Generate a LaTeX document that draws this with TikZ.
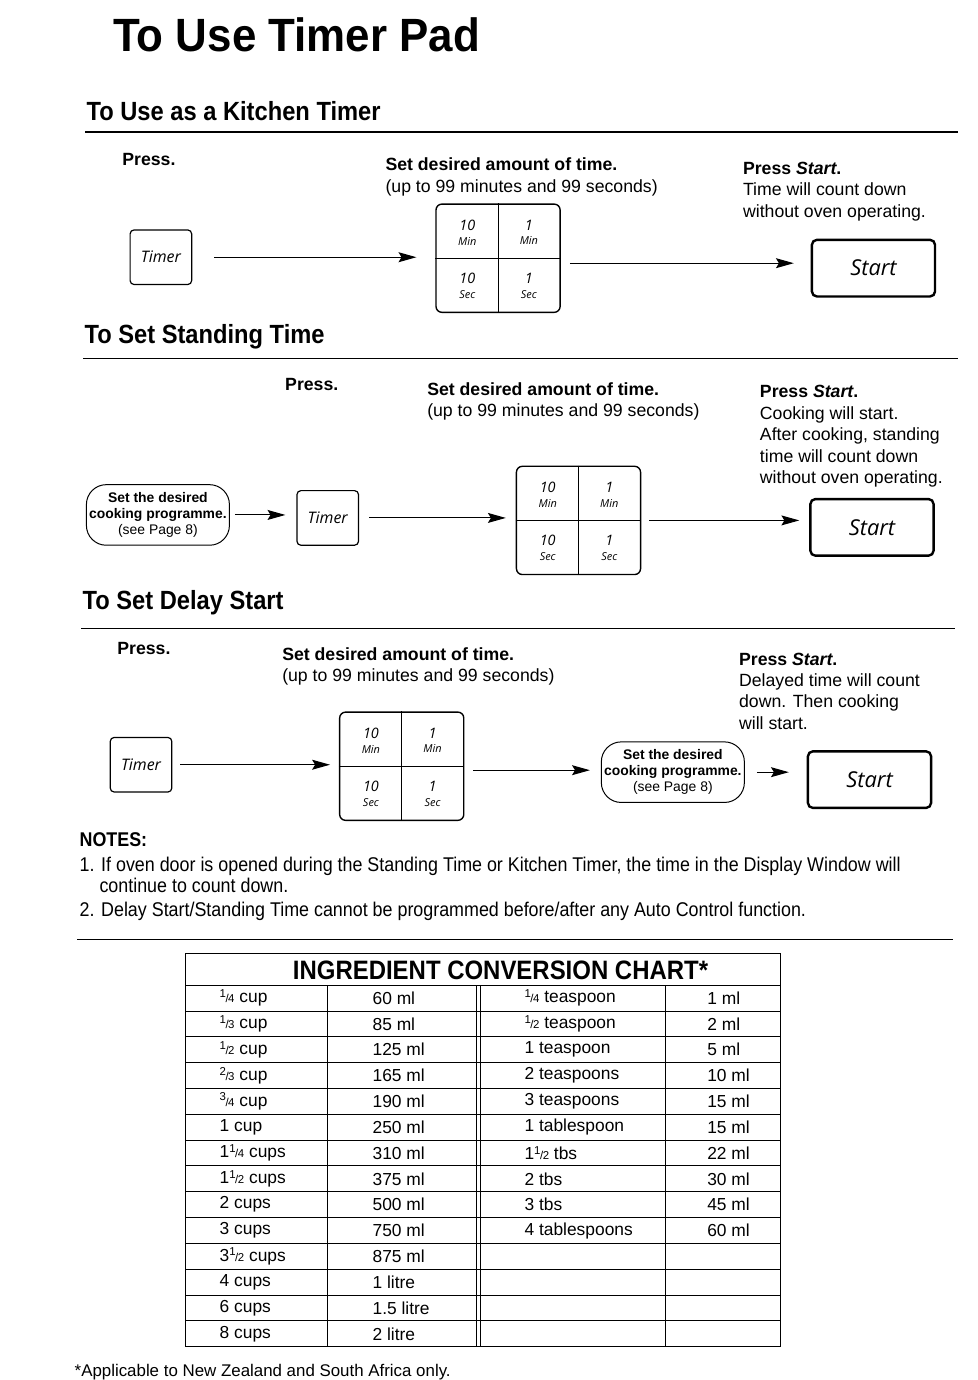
\documentclass[tikz,border=0pt]{standalone}
\usepackage{fontspec}
\setmainfont{Liberation Sans}
\newfontfamily\narrowfont{Liberation Sans}[FakeStretch=0.9]
\newfontfamily\titlefont{Liberation Sans}[FakeStretch=0.94]
\newfontfamily\keyfont{Open Sans}
\usetikzlibrary{arrows.meta, positioning, calc}

% small fractions for the chart
\newcommand{\vf}[2]{{\fontsize{11.5}{11}\selectfont\raisebox{5.5pt}{#1}\kern-0.5pt/\kern-0.5pt#2}}
% one key of the time pad
\newcommand{\padcell}[2]{{\fontsize{14.5}{14}\selectfont #1}\\{\fontsize{11}{11}\selectfont #2}}
% time pad: name, position
\newcommand{\timepad}[2]{%
  \node[padbox] (#1) at (#2) {};
  \draw[line width=1pt] (#1.north) -- (#1.south) (#1.west) -- (#1.east);
  \node[padkey] (#1-tl) at ($(#1.center)+(-31,-26)$) {\padcell{10}{Min}};
  \node[padkey] (#1-tr) at ($(#1.center)+(31,-26)$) {\padcell{1}{Min}};
  \node[padkey] (#1-bl) at ($(#1.center)+(-31,28)$) {\padcell{10}{Sec}};
  \node[padkey] (#1-br) at ($(#1.center)+(31,28)$) {\padcell{1}{Sec}};
}

\begin{document}
\begin{tikzpicture}[x=1pt, y=-1pt,
    keybox/.style={draw, rounded corners=4pt, line width=1.2pt, minimum width=62pt, minimum height=55pt,
                   font=\keyfont\itshape\fontsize{16}{18}\selectfont},
    startbox/.style={draw, rounded corners=5pt, line width=2.4pt, minimum width=124pt, minimum height=57pt,
                     font=\keyfont\itshape\fontsize{22}{24}\selectfont},
    padbox/.style={draw, rounded corners=6pt, line width=1.4pt, minimum width=125pt, minimum height=109pt},
    padkey/.style={align=center, inner sep=0pt, font=\keyfont\itshape\fontsize{12}{15}\selectfont},
    progbox/.style={draw, rounded corners=20pt, line width=1pt, minimum width=144pt, minimum height=61pt,
                    align=center, inner sep=1pt, font=\fontsize{14}{16}\selectfont},
    arrow/.style={-{Stealth[length=18pt, width=10pt, inset=3pt]}, line width=1.1pt},
    heading/.style={anchor=north west, inner sep=0pt, font=\narrowfont\bfseries\fontsize{26.5}{30}\selectfont},
    headrule/.style={line width=1.6pt},
    steptext/.style={anchor=north west, inner sep=0pt, align=left, font=\fontsize{17.8}{21.6}\selectfont},
    notetext/.style={anchor=north west, inner sep=0pt, font=\narrowfont\fontsize{20}{22}\selectfont},
    cell/.style={anchor=west, inner sep=0pt, font=\fontsize{17.5}{19}\selectfont}
  ]
    \path[fill=white] (0,0) rectangle (984,1380);

    % Title
    \node[anchor=north west, inner sep=0pt, font=\titlefont\bfseries\fontsize{47}{50}\selectfont] (title) at (114,18) {To Use Timer Pad};

    % Kitchen timer
    \node[heading] (headA) at (87,102) {To Use as a Kitchen Timer};
    \draw[headrule] (86,133) -- (965,133);
    \node[steptext] (pressA) at (123,154) {\textbf{Press.}};
    \node[steptext] (setA) at (388,159) {\textbf{Set desired amount of time.}\\(up to 99 minutes and 99 seconds)};
    \node[steptext] (startA-txt) at (748,163) {\textbf{Press \textit{Start}.}\\Time will count down\\without oven operating.};
    \node[keybox] (timerA) at (162,259) {Timer};
    \timepad{padA}{501.5,260}
    \node[startbox] (startA) at (879.5,270) {Start};
    \draw[arrow, shorten <=22pt, shorten >=19pt] (timerA.east) -- (timerA.east -| padA.west);
    \draw[arrow, shorten <=9pt, shorten >=17pt] ($(padA.east)+(0,5)$) -- ($(padA.east -| startA.west)+(0,5)$);

    % Standing time
    \node[heading] (headB) at (85,326) {To Set Standing Time};
    \draw[headrule] (84,361) -- (965,361);
    \node[steptext] (pressB) at (287,381) {\textbf{Press.}};
    \node[steptext] (setB) at (430,385) {\textbf{Set desired amount of time.}\\(up to 99 minutes and 99 seconds)};
    \node[steptext] (startB-txt) at (765,388) {\textbf{Press \textit{Start}.}\\Cooking will start.\\After cooking, standing\\time will count down\\without oven operating.};
    \node[progbox] (progB) at (159,518.5) {\textbf{Set the desired}\\\textbf{cooking programme.}\\(see Page 8)};
    \node[keybox] (timerB) at (330,521.5) {Timer};
    \timepad{padB}{582.5,524}
    \node[startbox] (startB) at (878,531) {Start};
    \draw[arrow, shorten <=5pt, shorten >=11pt] (progB.east) -- (progB.east -| timerB.west);
    \draw[arrow, shorten <=10pt, shorten >=10pt] (timerB.east) -- (timerB.east -| padB.west);
    \draw[arrow, shorten <=8pt, shorten >=10pt] (padB.east) -- (padB.east -| startB.west);

    % Delay start
    \node[heading] (headC) at (83,594) {To Set Delay Start};
    \draw[headrule] (82,633) -- (962,633);
    \node[steptext] (pressC) at (118,647) {\textbf{Press.}};
    \node[steptext] (setC) at (284,652) {\textbf{Set desired amount of time.}\\(up to 99 minutes and 99 seconds)};
    \node[steptext] (startC-txt) at (744,657) {\textbf{Press \textit{Start}.}\\Delayed time will count\\down. Then cooking\\will start.};
    \node[keybox] (timerC) at (142,770) {Timer};
    \timepad{padC}{404.5,771.5}
    \node[progbox] (progC) at (677.5,777.5) {\textbf{Set the desired}\\\textbf{cooking programme.}\\(see Page 8)};
    \node[startbox] (startC) at (875.5,785) {Start};
    \draw[arrow, shorten <=8pt, shorten >=9pt] (timerC.east) -- (timerC.east -| padC.west);
    \draw[arrow, shorten <=9pt, shorten >=11pt] ($(padC.east)+(0,4)$) -- ($(padC.east -| progC.west)+(0,4)$);
    \draw[arrow, shorten <=12pt, shorten >=18pt] (progC.east) -- (progC.east -| startC.west);

    % Notes
    \node[notetext] (notes) at (80,838) {\bfseries NOTES:};
    \node[notetext] (note1) at (80,863) {1. If oven door is opened during the Standing Time or Kitchen Timer, the time in the Display Window will};
    \node[notetext] (note1b) at (100,884) {continue to count down.};
    \node[notetext] (note2) at (80,908) {2. Delay Start/Standing Time cannot be programmed before/after any Auto Control function.};
    \draw[headrule] (78,946) -- (960,946);

    % Conversion chart
    \draw[line width=1.3pt] (187,960) rectangle (786,1356);
    \foreach \k in {0,...,13}
      \draw[line width=1pt] (187,992+26*\k) -- (786,992+26*\k);
    \draw[line width=1pt] (330,992) -- (330,1356) (480,992) -- (480,1356) (484,992) -- (484,1356) (670,992) -- (670,1356);
    \node[font=\narrowfont\bfseries\fontsize{26.8}{28}\selectfont] (chart) at (504,977) {INGREDIENT CONVERSION CHART*};
    \foreach \amt/\vol/\spn/\svol [count=\i from 0] in {
        {\vf14 cup}/60 ml/{\vf14 teaspoon}/1 ml,
        {\vf13 cup}/85 ml/{\vf12 teaspoon}/2 ml,
        {\vf12 cup}/125 ml/{1 teaspoon}/5 ml,
        {\vf23 cup}/165 ml/{2 teaspoons}/10 ml,
        {\vf34 cup}/190 ml/{3 teaspoons}/15 ml,
        {1 cup}/250 ml/{1 tablespoon}/15 ml,
        {1\vf14 cups}/310 ml/{1\vf12 tbs}/22 ml,
        {1\vf12 cups}/375 ml/{2 tbs}/30 ml,
        {2 cups}/500 ml/{3 tbs}/45 ml,
        {3 cups}/750 ml/{4 tablespoons}/60 ml,
        {3\vf12 cups}/875 ml/{}/{},
        {4 cups}/1 litre/{}/{},
        {6 cups}/1.5 litre/{}/{},
        {8 cups}/2 litre/{}/{}}
    {
      \node[cell] (amt\i) at (221,1005+26*\i) {\amt};
      \node[cell] (vol\i) at (375,1005+26*\i) {\vol};
      \node[cell] (spn\i) at (528,1005+26*\i) {\spn};
      \node[cell] (svol\i) at (712,1005+26*\i) {\svol};
    }
    \node[anchor=base west, inner sep=0pt, font=\fontsize{17}{18}\selectfont] (foot) at (75,1386) {*Applicable to New Zealand and South Africa only.};
  \end{tikzpicture}
\end{document}
